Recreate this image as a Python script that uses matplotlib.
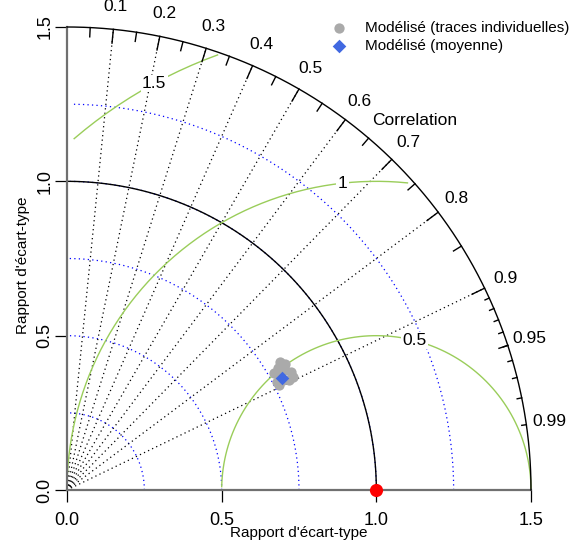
"""
Diagramme de Taylor : traces individuelles du modèle et leur moyenne.
"""
import numpy as np
import matplotlib.pyplot as plt

plt.rcParams['font.family'] = ['Liberation Sans', 'DejaVu Sans']

# --- data -------------------------------------------------------------
ref_sd = 1.0
# individual traces: sd ratio and correlation with the reference
trace_sd = [0.804, 0.815, 0.788, 0.805, 0.819, 0.818, 0.780, 0.784, 0.764, 0.765, 0.801, 0.769]
trace_corr = [0.857, 0.865, 0.865, 0.876, 0.884, 0.894, 0.879, 0.891, 0.889, 0.896, 0.896, 0.870]
mean_sd = 0.785
mean_corr = 0.887

corr_lines = [0.1, 0.2, 0.3, 0.4, 0.5, 0.6, 0.7, 0.8, 0.9]
corr_labels = [0.1, 0.2, 0.3, 0.4, 0.5, 0.6, 0.7, 0.8, 0.9, 0.95, 0.99]
sd_arcs = [0.25, 0.5, 0.75, 1.0, 1.25]
gamma = [0.5, 1.0, 1.5]
sd_ticks = [0.0, 0.5, 1.0, 1.5]
maxsd = 1.5

legend_labels = ["Modélisé (traces individuelles)", "Modélisé (moyenne)"]
axis_label = "Rapport d'écart-type"

fig = plt.figure(figsize=(5.74, 5.44), dpi=100)
ax = fig.add_axes([67 / 574, 54 / 544, 464 / 574, 463 / 544])
ax.set_xlim(0, maxsd)
ax.set_ylim(0, maxsd)

gamma_col = '#9acd5a'
dot = (0, (1, 2.6))
lab_fs = 12.5

# sd arcs (blue dotted)
t = np.arange(0, np.pi / 2, 0.03)
for r in sd_arcs:
    ax.plot(np.cos(t) * r, np.sin(t) * r, color='blue', lw=0.9, ls=dot, clip_on=False)

# reference sd arc
t = np.linspace(0, np.pi / 2, 200)
ax.plot(np.cos(t) * ref_sd, np.sin(t) * ref_sd, color='black', lw=1, clip_on=False)

# correlation lines
for c in corr_lines:
    ax.plot([0, maxsd * c], [0, maxsd * np.sqrt(1 - c ** 2)], color='black', lw=0.9, ls=dot,
            clip_on=False)

# centred RMS (gamma) arcs
t = np.arange(0, np.pi, 0.03)
labelpos = [44, 56, 69]
for g, lp in zip(gamma, labelpos):
    xc = np.cos(t) * g + ref_sd
    yc = np.sin(t) * g
    neg = np.where(xc < 0)[0]
    end = neg.min() if len(neg) else len(t)
    out = np.where(xc ** 2 + yc ** 2 > maxsd ** 2)[0]
    start = out.max() + 1 if len(out) else 0
    ax.plot(xc[start:end], yc[start:end], color=gamma_col, lw=1, clip_on=False)
    ax.text(xc[lp], yc[lp], f"{g:g}", fontsize=lab_fs, ha='center', va='center', zorder=3,
            bbox=dict(facecolor='white', edgecolor='none', pad=1.0))

# outer arc
t = np.linspace(0, np.pi / 2, 300)
ax.plot(np.cos(t) * maxsd, np.sin(t) * maxsd, color='black', lw=1, clip_on=False, zorder=3)

# correlation ticks
big = np.arccos(np.arange(0.1, 0.91, 0.1))
med = np.arccos(np.arange(0.05, 0.96, 0.1))
sml = np.arccos(np.arange(0.91, 0.995, 0.01))
for angs, f in [(big, 0.97), (med, 0.98), (sml, 0.99)]:
    for a in angs:
        ax.plot([np.cos(a) * maxsd, np.cos(a) * maxsd * f], [np.sin(a) * maxsd, np.sin(a) * maxsd * f],
                color='black', lw=1, clip_on=False, zorder=3)

for c in corr_labels:
    a = np.arccos(c)
    ax.text(np.cos(a) * maxsd * 1.05, np.sin(a) * maxsd * 1.05, f"{c:g}", fontsize=lab_fs,
            ha='center', va='center')
ax.text(1.125, 1.197, "Correlation", fontsize=lab_fs, ha='center', va='center')

# points
tr = np.array(trace_corr)
ts = np.array(trace_sd)
h1 = ax.scatter(ts * tr, ts * np.sqrt(1 - tr ** 2), s=55, color='#aaaaaa', zorder=4,
                clip_on=False, linewidths=0, label=legend_labels[0])
h2 = ax.scatter([mean_sd * mean_corr], [mean_sd * np.sqrt(1 - mean_corr ** 2)], s=48, marker='D',
                color='#4169e1', zorder=5, linewidths=0, label=legend_labels[1])
ax.scatter([ref_sd], [0], s=90, color='red', zorder=6, clip_on=False, linewidths=0)

# axes
for side in ['top', 'right']:
    ax.spines[side].set_visible(False)
for side in ['left', 'bottom']:
    ax.spines[side].set_color('#707070')
    ax.spines[side].set_linewidth(1.6)
ax.set_xticks(sd_ticks)
ax.set_yticks(sd_ticks)
ax.set_xticklabels([f"{v:.1f}" for v in sd_ticks], fontsize=13)
ax.set_yticklabels([f"{v:.1f}" for v in sd_ticks], fontsize=13, rotation=90, va='center')
ax.tick_params(length=8.6, width=0.9, color='black', pad=7)
ax.tick_params(axis='y', pad=1)
ax.set_xlabel(axis_label, fontsize=11, labelpad=-2)
ax.set_ylabel(axis_label, fontsize=11, labelpad=5, y=0.486)
ax.patch.set_visible(False)

ax.legend(handles=[h1, h2], loc='upper left', bbox_to_anchor=(0.54, 1.026), frameon=False,
          fontsize=11, handletextpad=0.7, labelspacing=0.23, borderaxespad=0)

fig.savefig("out.png", dpi=100)
